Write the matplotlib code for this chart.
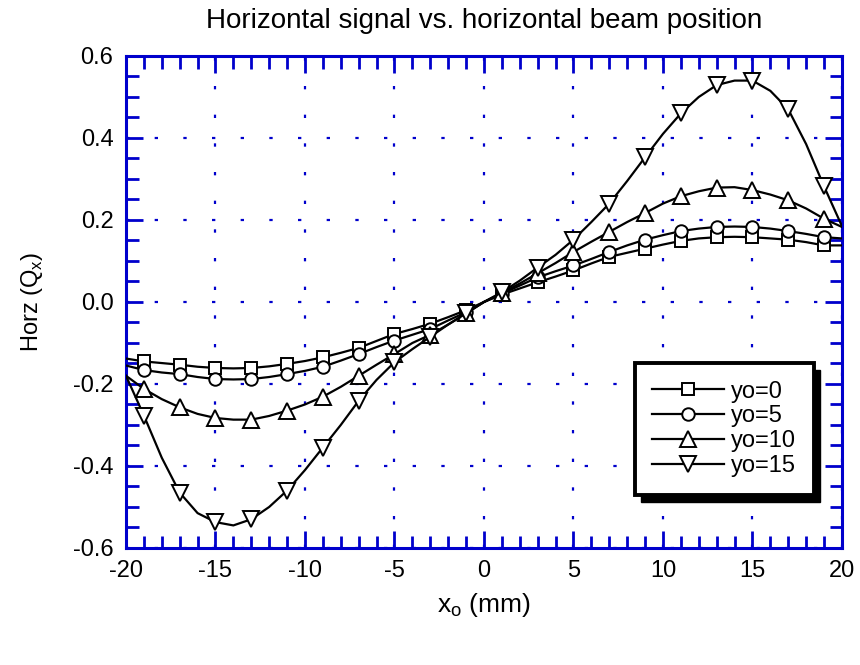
import matplotlib
matplotlib.use("Agg")
import matplotlib.pyplot as plt
from matplotlib.patches import Rectangle
from matplotlib.transforms import IdentityTransform

plt.rcParams['font.family'] = ['Liberation Sans', 'DejaVu Sans']
plt.rcParams['mathtext.fontset'] = 'custom'
plt.rcParams['mathtext.rm'] = 'Liberation Sans'

# beam position x (mm), one sample per mm; markers on the odd positions
x_mm = list(range(-20, 21))

q_y0 = [-0.138, -0.145, -0.149, -0.153, -0.158, -0.161, -0.162, -0.161, -0.157, -0.151,
        -0.144, -0.135, -0.124, -0.112, -0.095, -0.078, -0.066, -0.053, -0.037, -0.020,
        0.000, 0.018, 0.033, 0.048, 0.062, 0.077, 0.094, 0.110, 0.120, 0.130,
        0.140, 0.149, 0.155, 0.158, 0.159, 0.158, 0.155, 0.152, 0.146, 0.138, 0.138]

q_y5 = [-0.155, -0.166, -0.172, -0.176, -0.183, -0.188, -0.189, -0.188, -0.183, -0.176,
        -0.168, -0.158, -0.143, -0.127, -0.110, -0.094, -0.080, -0.066, -0.045, -0.025,
        0.000, 0.020, 0.040, 0.060, 0.075, 0.089, 0.105, 0.122, 0.138, 0.152,
        0.163, 0.173, 0.179, 0.183, 0.184, 0.183, 0.179, 0.173, 0.166, 0.158, 0.155]

q_y10 = [-0.180, -0.212, -0.237, -0.257, -0.273, -0.283, -0.287, -0.287, -0.278, -0.265,
         -0.250, -0.231, -0.207, -0.180, -0.153, -0.127, -0.100, -0.080, -0.055, -0.028,
         0.000, 0.022, 0.045, 0.070, 0.095, 0.122, 0.147, 0.171, 0.195, 0.217,
         0.240, 0.258, 0.270, 0.279, 0.280, 0.273, 0.262, 0.248, 0.228, 0.203, 0.183]

q_y15 = [-0.180, -0.277, -0.380, -0.465, -0.515, -0.537, -0.545, -0.530, -0.500, -0.460,
         -0.410, -0.355, -0.300, -0.241, -0.190, -0.147, -0.115, -0.085, -0.055, -0.028,
         0.000, 0.024, 0.052, 0.084, 0.115, 0.152, 0.195, 0.240, 0.295, 0.353,
         0.410, 0.460, 0.500, 0.529, 0.540, 0.540, 0.515, 0.470, 0.385, 0.282, 0.185]

series_labels = ['yo=0', 'yo=5', 'yo=10', 'yo=15']
series_markers = ['s', 'o', '^', 'v']

x_ticks = [-20, -15, -10, -5, 0, 5, 10, 15, 20]
x_minor = list(range(-20, 21))
y_ticks = [-0.6, -0.4, -0.2, 0.0, 0.2, 0.4, 0.6]
y_tick_labels = ['-0.6', '-0.4', '-0.2', '0.0', '0.2', '0.4', '0.6']
y_minor = [i * 0.05 - 0.6 for i in range(25)]

blue = '#0000cc'

fig = plt.figure(figsize=(8.6, 6.65), dpi=100)
ax = fig.add_axes([0.1465, 0.176, 0.8325, 0.7398])

for q, lab, mk in zip([q_y0, q_y5, q_y10, q_y15], series_labels, series_markers):
    ax.plot(x_mm, q, color='black', lw=1.6, marker=mk, markevery=(1, 2),
            markersize=11 if mk in '^v' else 9, markerfacecolor='white',
            markeredgecolor='black', markeredgewidth=1.4, label=lab, zorder=3)

ax.set_xlim(-20, 20)
ax.set_ylim(-0.6, 0.6)
ax.set_xticks(x_ticks)
ax.set_xticklabels([str(v) for v in x_ticks])
ax.set_xticks(x_minor, minor=True)
ax.set_yticks(y_ticks)
ax.set_yticklabels(y_tick_labels)
ax.set_yticks(y_minor, minor=True)

ax.tick_params(which='both', direction='in', top=True, right=True,
               color=blue, labelsize=17, labelcolor='black')
ax.tick_params(which='major', length=12, width=2, pad=9)
ax.tick_params(which='minor', length=9, width=2)
for sp in ax.spines.values():
    sp.set_color(blue)
    sp.set_linewidth(2.2)

ax.grid(True, which='major', color=blue, linestyle=(0, (1.5, 11.4)), linewidth=1.6)

ax.set_title('Horizontal signal vs. horizontal beam position', fontsize=20, pad=20)
ax.set_ylabel(r'Horz (Q$_\mathregular{x}$)', fontsize=17, labelpad=20)
ax.set_xlabel(r'x$_\mathregular{o}$ (mm)', fontsize=19, labelpad=6)

leg = ax.legend(loc='lower right', bbox_to_anchor=(0.961, 0.108), fontsize=17,
                frameon=True, fancybox=False, framealpha=1, edgecolor='black',
                handlelength=3.05, handletextpad=0.3, labelspacing=0.12,
                borderpad=0.75, borderaxespad=0)
leg.get_frame().set_linewidth(2.8)
leg.set_zorder(6)

# solid drop shadow behind the legend box
fig.canvas.draw()
bb = leg.get_frame().get_window_extent()
shadow = Rectangle((bb.x0 + 6, bb.y0 - 7), bb.width, bb.height,
                   transform=IdentityTransform(), facecolor='black',
                   edgecolor='black', zorder=5.5, clip_on=False)
ax.add_artist(shadow)

fig.savefig('out.png', dpi=100)
